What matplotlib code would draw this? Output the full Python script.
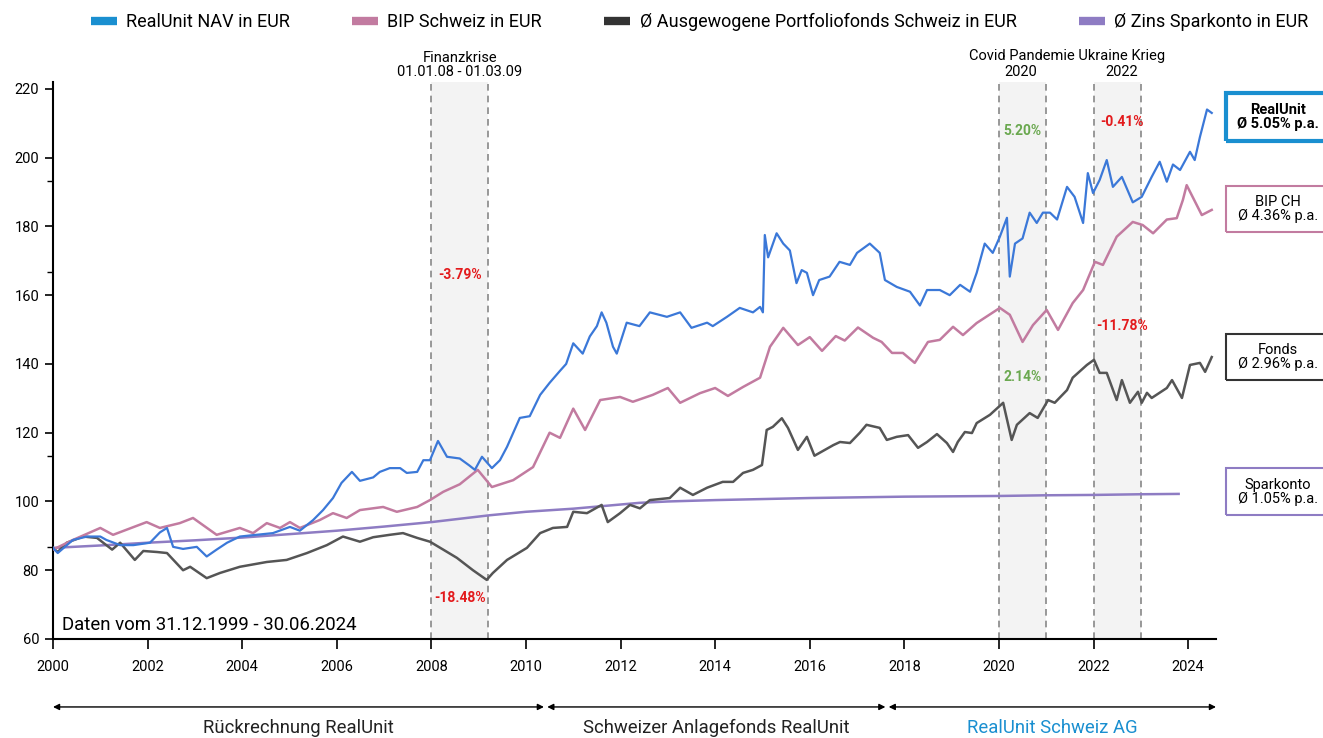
import matplotlib

matplotlib.use("Agg")
import matplotlib.pyplot as plt
from matplotlib.lines import Line2D
from matplotlib.patches import Rectangle

plt.rcParams["font.family"] = ["Roboto", "DejaVu Sans"]

# RealUnit NAV in EUR
ru_years = [2000.0, 2000.1, 2000.42, 2000.72, 2001.0, 2001.13, 2001.42, 2001.7, 2002.05, 2002.26,
            2002.41, 2002.54, 2002.75, 2003.04, 2003.25, 2003.46, 2003.68, 2003.95, 2004.31, 2004.65,
            2005.01, 2005.22, 2005.5, 2005.71, 2005.92, 2006.1, 2006.32, 2006.49, 2006.77, 2006.91,
            2007.12, 2007.34, 2007.48, 2007.7, 2007.83, 2007.97, 2008.14, 2008.33, 2008.6, 2008.8,
            2008.92, 2009.07, 2009.28, 2009.45, 2009.6, 2009.87, 2010.08, 2010.3, 2010.5, 2010.72,
            2010.85, 2011.0, 2011.2, 2011.35, 2011.5, 2011.6, 2011.7, 2011.84, 2011.92, 2012.13,
            2012.4, 2012.62, 2012.98, 2013.26, 2013.5, 2013.83, 2013.95, 2014.25, 2014.52, 2014.8,
            2014.95, 2015.01, 2015.05, 2015.12, 2015.3, 2015.44, 2015.58, 2015.72, 2015.83, 2015.94,
            2016.07, 2016.2, 2016.42, 2016.63, 2016.85, 2017.0, 2017.27, 2017.48, 2017.59, 2017.84,
            2018.12, 2018.33, 2018.48, 2018.75, 2018.96, 2019.18, 2019.39, 2019.53, 2019.7, 2019.87,
            2020.02, 2020.17, 2020.23, 2020.34, 2020.5, 2020.65, 2020.8, 2020.93, 2021.08, 2021.23,
            2021.44, 2021.6, 2021.78, 2021.88, 2021.99, 2022.13, 2022.28, 2022.41, 2022.6, 2022.83,
            2023.02, 2023.23, 2023.4, 2023.55, 2023.68, 2023.83, 2024.04, 2024.14, 2024.25, 2024.4,
            2024.5]
ru_values = [86.5, 85.0, 88.8, 89.8, 89.8, 88.8, 87.3, 87.3, 88.0, 91.0,
             92.3, 86.8, 86.2, 86.8, 84.0, 86.0, 88.0, 89.8, 90.3, 90.8,
             92.6, 91.5, 94.6, 97.5, 101.0, 105.4, 108.6, 106.0, 107.0, 108.6,
             109.7, 109.7, 108.3, 108.6, 112.0, 112.0, 117.6, 113.0, 112.5, 110.5,
             109.2, 113.0, 109.7, 112.0, 115.9, 124.3, 124.8, 131.0, 134.5, 138.0,
             140.0, 146.0, 143.0, 148.0, 151.0, 155.0, 152.0, 145.0, 143.0, 152.0,
             151.0, 155.0, 153.7, 155.0, 150.5, 152.0, 151.0, 153.7, 156.3, 155.0,
             156.6, 155.0, 177.5, 171.0, 178.0, 175.0, 173.0, 163.5, 167.3, 166.5,
             160.0, 164.4, 165.4, 169.7, 168.8, 172.3, 175.0, 172.3, 164.4, 162.4,
             161.0, 157.0, 161.5, 161.5, 160.0, 163.0, 161.0, 166.5, 175.0, 172.3,
             177.0, 182.5, 165.4, 175.0, 176.5, 184.0, 181.0, 184.0, 184.0, 182.0,
             191.5, 188.6, 181.0, 195.5, 189.7, 193.5, 199.3, 191.5, 194.4, 187.0,
             188.6, 194.4, 198.8, 193.0, 198.0, 196.4, 201.7, 199.3, 206.0, 214.0,
             213.0]

# BIP Schweiz in EUR
bip_years = [2000.0, 2000.42, 2001.0, 2001.27, 2001.98, 2002.26, 2002.68, 2002.96, 2003.46, 2003.95,
             2004.23, 2004.52, 2004.8, 2005.01, 2005.22, 2005.64, 2005.92, 2006.21, 2006.49, 2006.98,
             2007.27, 2007.7, 2007.97, 2008.25, 2008.6, 2008.98, 2009.28, 2009.73, 2010.15, 2010.5,
             2010.72, 2011.0, 2011.25, 2011.57, 2011.99, 2012.26, 2012.68, 2013.0, 2013.26, 2013.68,
             2014.0, 2014.27, 2014.59, 2014.95, 2015.16, 2015.44, 2015.75, 2016.0, 2016.26, 2016.55,
             2016.74, 2017.02, 2017.34, 2017.52, 2017.74, 2017.97, 2018.22, 2018.5, 2018.75, 2019.03,
             2019.24, 2019.53, 2020.02, 2020.23, 2020.5, 2020.72, 2021.01, 2021.25, 2021.56, 2021.78,
             2022.03, 2022.2, 2022.49, 2022.83, 2023.04, 2023.26, 2023.55, 2023.76, 2023.89, 2023.97,
             2024.29, 2024.5]
bip_values = [86.0, 88.8, 92.3, 90.3, 94.0, 92.3, 93.7, 95.2, 90.3, 92.3,
              90.8, 93.7, 92.3, 94.0, 92.3, 94.6, 96.6, 95.2, 97.5, 98.4,
              97.0, 98.4, 100.4, 102.8, 105.0, 109.2, 104.2, 106.2, 110.0, 120.0,
              118.5, 127.0, 120.8, 129.5, 130.4, 129.0, 131.0, 133.0, 128.7, 131.5,
              133.0, 130.7, 133.3, 136.0, 145.0, 150.5, 145.5, 147.8, 143.8, 148.1,
              146.8, 150.6, 147.6, 146.4, 143.2, 143.2, 140.3, 146.4, 147.0, 150.8,
              148.4, 151.9, 156.3, 154.3, 146.4, 151.3, 155.7, 149.9, 157.7, 161.5,
              169.7, 168.8, 177.0, 181.3, 180.4, 178.0, 182.0, 182.4, 187.7, 192.0,
              183.3, 184.8]

# Ø Ausgewogene Portfoliofonds Schweiz in EUR
fonds_years = [2000.0, 2000.1, 2000.29, 2000.64, 2000.93, 2001.25, 2001.42, 2001.73, 2001.91, 2002.2,
               2002.41, 2002.75, 2002.9, 2003.25, 2003.53, 2003.95, 2004.52, 2004.94, 2005.37, 2005.79,
               2006.13, 2006.49, 2006.77, 2007.12, 2007.4, 2007.7, 2007.97, 2008.25, 2008.54, 2008.88,
               2009.17, 2009.3, 2009.6, 2010.02, 2010.3, 2010.57, 2010.87, 2011.0, 2011.29, 2011.6,
               2011.73, 2011.99, 2012.2, 2012.41, 2012.62, 2013.04, 2013.26, 2013.53, 2013.83, 2014.16,
               2014.38, 2014.59, 2014.8, 2014.99, 2015.09, 2015.22, 2015.41, 2015.54, 2015.75, 2015.94,
               2016.1, 2016.5, 2016.64, 2016.85, 2017.06, 2017.2, 2017.48, 2017.63, 2017.84, 2018.08,
               2018.29, 2018.48, 2018.69, 2018.9, 2019.03, 2019.13, 2019.28, 2019.43, 2019.53, 2019.81,
               2020.09, 2020.27, 2020.38, 2020.65, 2020.82, 2021.04, 2021.18, 2021.44, 2021.56, 2021.86,
               2022.01, 2022.13, 2022.28, 2022.49, 2022.6, 2022.77, 2022.94, 2023.02, 2023.13, 2023.23,
               2023.55, 2023.66, 2023.87, 2024.04, 2024.25, 2024.36, 2024.5]
fonds_values = [86.5, 85.3, 88.0, 89.8, 89.4, 86.0, 88.0, 83.0, 85.6, 85.3,
                85.0, 80.0, 81.0, 77.7, 79.2, 81.0, 82.4, 83.0, 85.0, 87.3,
                89.8, 88.3, 89.6, 90.3, 90.8, 89.4, 88.3, 86.0, 83.6, 80.0,
                77.2, 79.2, 83.0, 86.5, 90.8, 92.3, 92.6, 97.0, 96.6, 99.0,
                94.0, 96.6, 99.0, 98.0, 100.4, 101.0, 104.0, 101.9, 104.0, 105.7,
                105.7, 108.3, 109.2, 110.6, 120.8, 121.7, 124.2, 121.4, 115.0, 118.8,
                113.3, 116.4, 117.3, 117.0, 120.0, 122.3, 121.4, 117.9, 118.8, 119.3,
                115.6, 117.3, 119.6, 117.0, 114.4, 117.3, 120.2, 119.9, 122.8, 125.2,
                128.7, 117.9, 122.3, 125.7, 124.3, 129.5, 128.7, 132.4, 136.0, 139.7,
                141.2, 137.4, 137.4, 129.5, 135.3, 128.7, 131.9, 128.7, 131.6, 130.1,
                133.0, 135.3, 130.1, 139.7, 140.3, 137.7, 142.0]

# Ø Zins Sparkonto in EUR
spar_years = [2000.0, 2001.0, 2002.0, 2003.0, 2004.0, 2005.0, 2006.0, 2007.0, 2008.0, 2009.24,
              2010.0, 2011.0, 2012.4, 2013.0, 2014.0, 2015.0, 2016.0, 2017.0, 2018.0, 2019.0,
              2020.0, 2021.0, 2022.0, 2023.0, 2023.8]
spar_values = [86.5, 87.2, 88.0, 88.7, 89.5, 90.5, 91.5, 92.7, 94.0, 96.0,
               97.0, 97.9, 99.6, 100.0, 100.4, 100.7, 101.0, 101.2, 101.4, 101.5,
               101.6, 101.8, 101.9, 102.1, 102.2]

legend_labels = ["RealUnit NAV in EUR", "BIP Schweiz in EUR",
                 "Ø Ausgewogene Portfoliofonds Schweiz in EUR", "Ø Zins Sparkonto in EUR"]
legend_colors = ["#1a8fd0", "#c27ba0", "#333333", "#8e7cc3"]

crisis_spans = [(2008.0, 2009.2), (2020.0, 2021.0), (2022.0, 2023.0)]
crisis_notes = [(2008.6, 165.9, "-3.79%", "#e31a1c"), (2008.6, 71.9, "-18.48%", "#e31a1c"),
                (2020.5, 207.8, "5.20%", "#6aa84f"), (2020.5, 136.2, "2.14%", "#6aa84f"),
                (2022.6, 210.4, "-0.41%", "#e31a1c"), (2022.6, 151.0, "-11.78%", "#e31a1c")]

boxes = [("RealUnit\nØ 5.05% p.a.", "#1a8fd0", 141, 48, 3.0, "bold"),
         ("BIP CH\nØ 4.36% p.a.", "#c27ba0", 232, 46, 1.5, "normal"),
         ("Fonds\nØ 2.96% p.a.", "#333333", 380, 46, 1.5, "normal"),
         ("Sparkonto\nØ 1.05% p.a.", "#8e7cc3", 515, 47, 1.5, "normal")]

phases = [(2000.0, 2010.38, "Rückrechnung RealUnit", "#222222"),
          (2010.45, 2017.6, "Schweizer Anlagefonds RealUnit", "#222222"),
          (2017.67, 2024.59, "RealUnit Schweiz AG", "#1a8fd0")]

W, H = 1323, 738
fig = plt.figure(figsize=(W / 100, H / 100), dpi=100)
ax = fig.add_axes((53 / W, 99 / H, (1216 - 53) / W, (656 - 99) / H))
ax.set_xlim(2000, 2024.59)
ax.set_ylim(60, 222)

for x0, x1 in crisis_spans:
    ax.axvspan(x0, x1, color="#f3f3f3", zorder=0, lw=0)
    for x in (x0, x1):
        ax.axvline(x, color="#888888", lw=1.2, ls=(0, (4, 3)), zorder=1)

ax.plot(spar_years, spar_values, color="#8e7cc3", lw=1.8, zorder=3)
ax.plot(fonds_years, fonds_values, color="#555555", lw=1.8, zorder=3)
ax.plot(bip_years, bip_values, color="#c27ba0", lw=1.8, zorder=3)
ax.plot(ru_years, ru_values, color="#3b78d8", lw=1.6, zorder=4)

for x, y, s, c in crisis_notes:
    ax.text(x, y, s, color=c, fontsize=10, fontweight="semibold", ha="center", va="center")

ax.text(2008.6, 222.9, "Finanzkrise\n01.01.08 - 01.03.09", ha="center", va="bottom",
        fontsize=10.5, linespacing=1.0)
ax.text(2021.44, 227.6, "Covid Pandemie Ukraine Krieg", ha="center", va="bottom", fontsize=10.5)
ax.text(2020.47, 222.9, "2020", ha="center", va="bottom", fontsize=10.5)
ax.text(2022.6, 222.9, "2022", ha="center", va="bottom", fontsize=10.5)

ax.text(2000.2, 64, "Daten vom 31.12.1999 - 30.06.2024", fontsize=13.4, va="center", ha="left")

ax.spines[["top", "right"]].set_visible(False)
ax.spines["left"].set_linewidth(1.5)
ax.spines["bottom"].set_linewidth(1.5)
ax.set_xticks(range(2000, 2025, 2))
ax.set_yticks(range(60, 221, 20))
ax.set_yticks([60 + 80 / 3 * k for k in (1, 2, 4, 5)], minor=True)
ax.tick_params(axis="x", length=7, width=1.2, labelsize=10.5, pad=8)
ax.tick_params(axis="y", length=6, width=1.2, labelsize=10.5, pad=4)
ax.tick_params(axis="y", which="minor", length=4, width=1.0)

xtr = ax.get_xaxis_transform()
for x0, x1, label, c in phases:
    ax.annotate("", xy=(x1, -0.122), xytext=(x0, -0.122), xycoords=xtr, textcoords=xtr,
                annotation_clip=False,
                arrowprops=dict(arrowstyle="<|-|>", color="black", lw=1.0,
                                mutation_scale=9, shrinkA=0, shrinkB=0))
    ax.text((x0 + x1) / 2, -0.16, label, transform=xtr, ha="center", va="center",
            fontsize=13.3, color=c)

for text, c, bottom_px, h_px, lw, weight in boxes:
    fig.add_artist(Rectangle((1226 / W, (H - bottom_px) / H), 120 / W, h_px / H,
                             transform=fig.transFigure, fill=False, ec=c, lw=lw))
    fig.text(1278 / W, (H - bottom_px + h_px / 2) / H, text, ha="center", va="center",
             fontsize=10.5, fontweight=weight, linespacing=1.0)

handles = [Line2D([], [], color=c, lw=6, solid_capstyle="butt") for c in legend_colors]
fig.legend(handles, legend_labels, loc="center", bbox_to_anchor=(0.5287, 0.970), ncol=4,
           frameon=False, fontsize=13, handlelength=1.45, handletextpad=0.5,
           columnspacing=3.45)

fig.savefig("out.png", dpi=100)
